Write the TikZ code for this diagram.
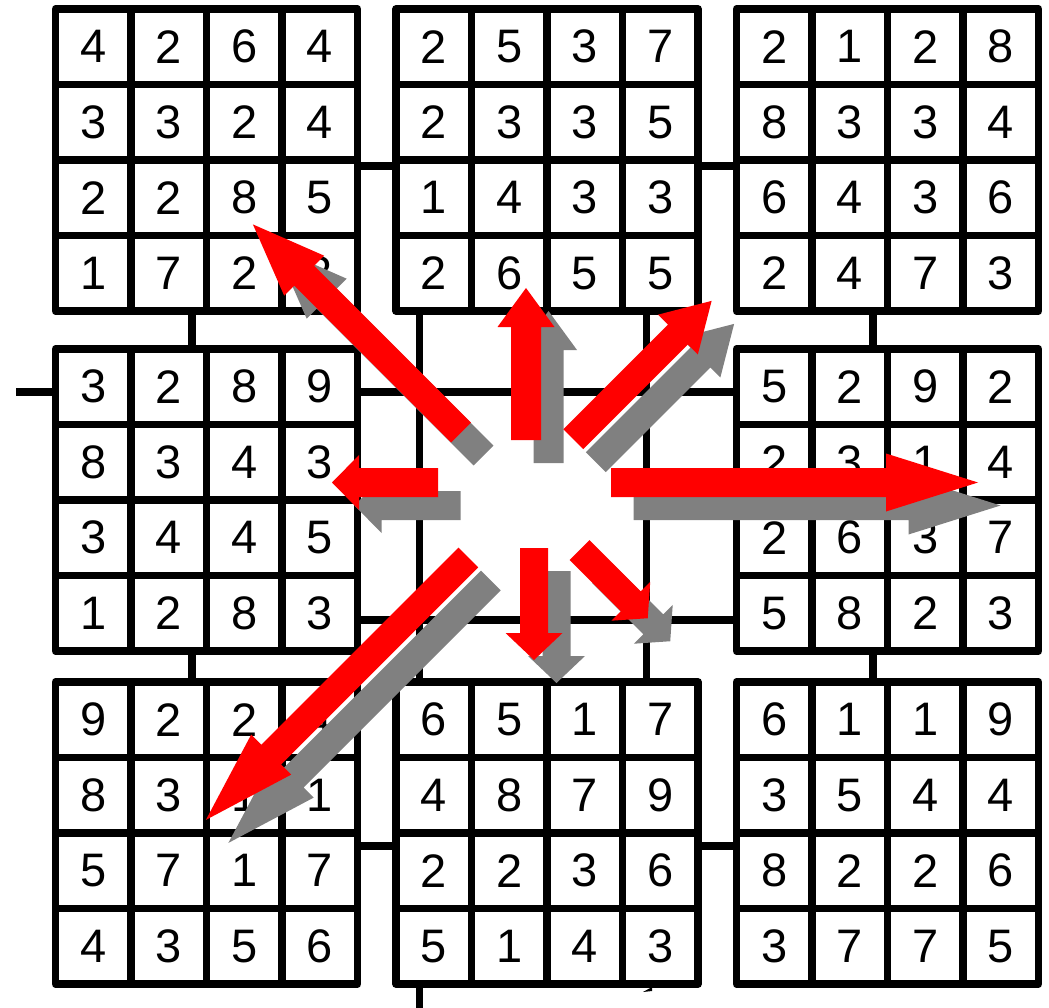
\documentclass[tikz,border=0pt]{standalone}
\usepackage{fontspec}
\setmainfont{Liberation Sans}
\usetikzlibrary{calc}
\definecolor{arrowred}{RGB}{255,0,0}
\definecolor{arrowgray}{RGB}{128,128,128}
\tikzset{
  gridbox/.style={draw=black, line width=7.5pt, line join=round, minimum width=302pt, minimum height=302pt, inner sep=0pt, outer sep=0pt},
  digit/.style={font=\fontsize{47}{50}\selectfont, inner sep=0pt, anchor=center},
  conn/.style={draw=black, line width=7.5pt},
  innerline/.style={draw=black, line width=7.5pt},
  pics/barrow/.style n args={4}{code={\fill (0,-#3) -- (#1-#2,-#3) -- (#1-#2,-#4) -- (#1,0) -- (#1-#2,#4) -- (#1-#2,#3) -- (0,#3) -- cycle;}},
}
\newcommand\sudgrid[3]{%
  \node[gridbox] (#1) at (#2) {};
  \foreach \k in {-75.5,0,75.5}{
    \draw[innerline] ([xshift=\k pt]#1.north) -- ([xshift=\k pt]#1.south);
    \draw[innerline] ([yshift=\k pt]#1.west) -- ([yshift=\k pt]#1.east);
  }
  \foreach \d [count=\i from 0] in {#3}{
    \pgfmathtruncatemacro\rr{int(\i/4)}
    \pgfmathtruncatemacro\cc{mod(\i,4)}
    \node[digit] (#1-\rr\cc) at ([shift={(-113.25+75.5*\cc,-113.25+75.5*\rr)}]#1.center) {\d};
  }
}
\newcommand\allarrows{%
  \pic[rotate=90]   at (526,440)     {barrow={152}{39}{15}{28.5}};
  \pic[rotate=-90]  at (534,548)     {barrow={112}{27}{14}{28.5}};
  \pic[rotate=0]    at (611,482.5)   {barrow={367}{92}{14.5}{29}};
  \pic[rotate=180]  at (438,482.5)   {barrow={106}{27}{14.5}{27.5}};
  \pic[rotate=135]  at (461,432.5)   {barrow={294.3}{72.6}{14}{28.3}};
  \pic[rotate=45]   at (573.3,439.2) {barrow={195.6}{47.7}{14}{28.2}};
  \pic[rotate=-135] at (468.3,557.5) {barrow={371.1}{92.4}{14}{28.3}};
  \pic[rotate=-45]  at (579.5,550)   {barrow={96.5}{24}{14}{27.5}};
}
\begin{document}
\begin{tikzpicture}[x=1pt,y=-1pt]
\useasboundingbox (0,0) rectangle (1049,1008);
% grids
\sudgrid{TL}{206.5,160}{4,2,6,4,3,3,2,4,2,2,8,5,1,7,2,3}
\sudgrid{TM}{547,160}{2,5,3,7,2,3,3,5,1,4,3,3,2,6,5,5}
\sudgrid{TR}{887.5,160}{2,1,2,8,8,3,3,4,6,4,3,6,2,4,7,3}
\sudgrid{ML}{206.5,500}{3,2,8,9,8,3,4,3,3,4,4,5,1,2,8,3}
\sudgrid{MR}{887.5,500}{5,2,9,2,2,3,1,4,2,6,3,7,5,8,2,3}
\sudgrid{BL}{206.5,833}{9,2,2,4,8,3,1,1,5,7,1,7,4,3,5,6}
\sudgrid{BM}{547,833}{6,5,1,7,4,8,7,9,2,2,3,6,5,1,4,3}
\sudgrid{BR}{887.5,833}{6,1,1,9,3,5,4,4,8,2,2,6,3,7,7,5}
% connector reference coordinates
\coordinate (cA) at (0,166);
\coordinate (cC) at (0,846);
\coordinate (vA) at (192,0);
\coordinate (vC) at (873,0);
\coordinate (v1) at (419.5,0);
\coordinate (v2) at (646.5,0);
\coordinate (h1) at (0,392);
\coordinate (h2) at (0,620);
\coordinate (stubL) at (16,392);
\coordinate (stubB) at (419.5,1012);
% connectors
\draw[conn] (TL.east |- cA) -- (TM.west |- cA);
\draw[conn] (TM.east |- cA) -- (TR.west |- cA);
\draw[conn] (BL.east |- cC) -- (BM.west |- cC);
\draw[conn] (BM.east |- cC) -- (BR.west |- cC);
\draw[conn] (TL.south -| vA) -- (ML.north -| vA);
\draw[conn] (ML.south -| vA) -- (BL.north -| vA);
\draw[conn] (TR.south -| vC) -- (MR.north -| vC);
\draw[conn] (MR.south -| vC) -- (BR.north -| vC);
\draw[conn] (TM.south -| v1) -- (BM.north -| v1);
\draw[conn] (TM.south -| v2) -- (BM.north -| v2);
\draw[conn] (ML.east |- h1) -- (MR.west |- h1);
\draw[conn] (ML.east |- h2) -- (MR.west |- h2);
\draw[conn] (ML.west |- h1) -- (stubL);
\draw[conn] (BM.south -| v1) -- (stubB);
% tiny mark below BM
\fill[black] (643,992) -- (652,987) -- (652,991) -- cycle;
% arrows: gray copies behind, red in front
\begin{scope}[shift={(22.5,23)}, fill=arrowgray]
  \allarrows
\end{scope}
\begin{scope}[fill=arrowred]
  \allarrows
\end{scope}
\end{tikzpicture}
\end{document}
